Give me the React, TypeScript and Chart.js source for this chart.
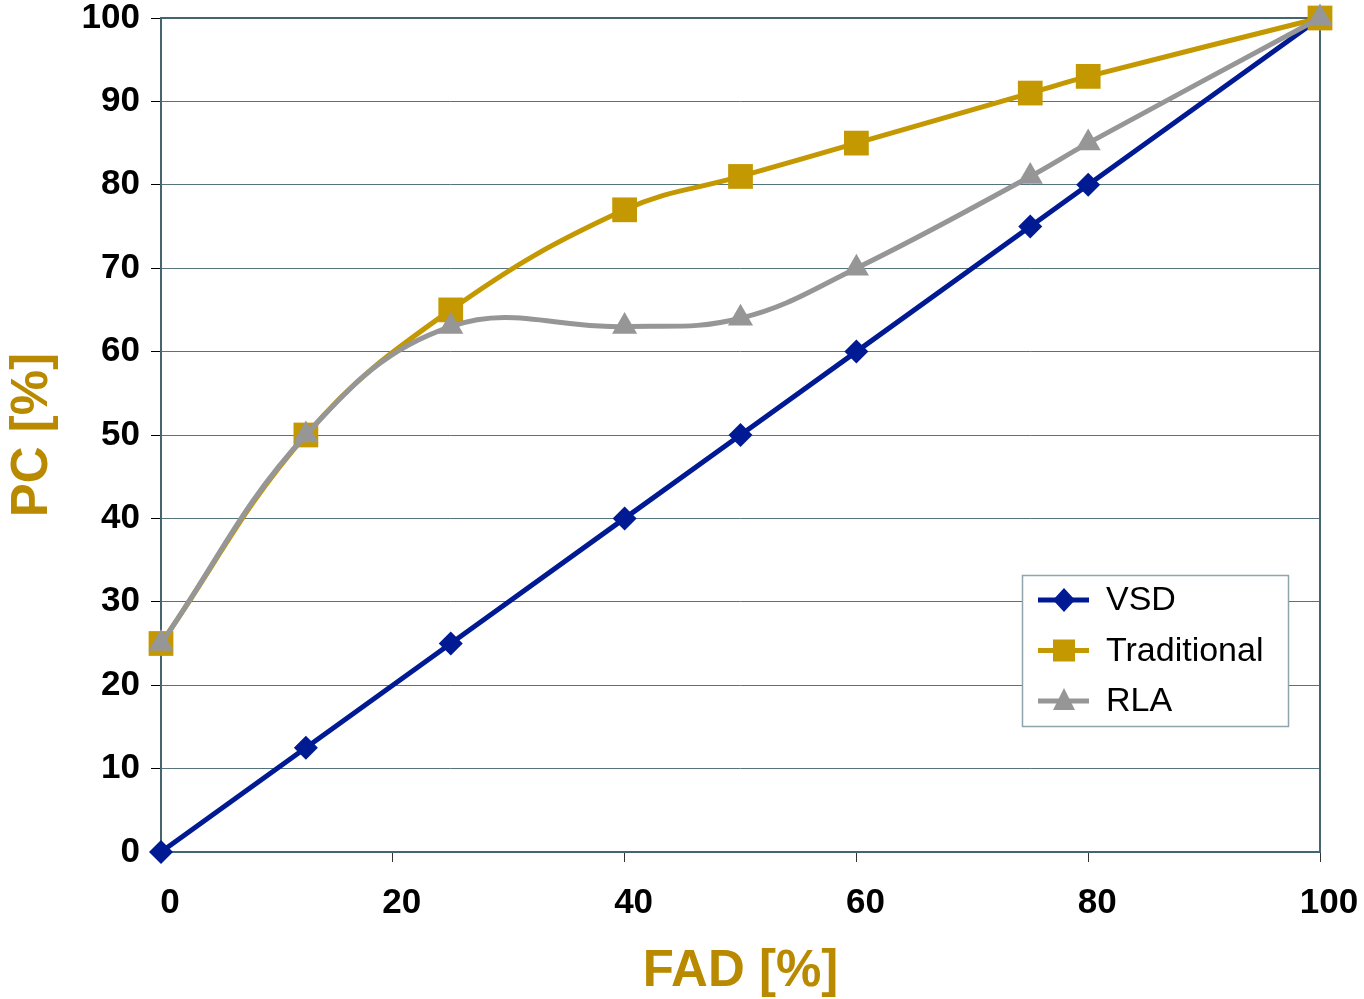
import React, { useEffect, useRef } from 'react';
import { Chart, registerables } from 'chart.js';

Chart.register(...registerables);

const fad = [0, 12.5, 25, 40, 50, 60, 75, 80, 100];
const vsd = [0, 12.5, 25, 40, 50, 60, 75, 80, 100];
const traditional = [25, 50, 65, 77, 81, 85, 91, 93, 100];
const rla = [25, 50, 63, 63, 64, 70, 81, 85, 100];
const seriesLabels = ['VSD', 'Traditional', 'RLA'];
const xTicks = [0, 20, 40, 60, 80, 100];
const yTicks = [0, 10, 20, 30, 40, 50, 60, 70, 80, 90, 100];
const xTitle = 'FAD [%]';
const yTitle = 'PC [%]';

const FONT = "'Liberation Sans', Arial, Helvetica, sans-serif";
const C_VSD = '#001a94';
const C_TRAD = '#c49800';
const C_RLA = '#969696';
const C_TITLE = '#b98a00';
const C_FRAME = '#44656e';
const C_GRID = '#54737a';

function drawMarker(ctx: CanvasRenderingContext2D, style: string, x: number, y: number, color: string) {
  ctx.fillStyle = color;
  ctx.beginPath();
  if (style === 'rectRot') {
    ctx.moveTo(x, y - 12);
    ctx.lineTo(x + 11, y);
    ctx.lineTo(x, y + 12);
    ctx.lineTo(x - 11, y);
    ctx.closePath();
  } else if (style === 'rect') {
    ctx.rect(x - 11, y - 11, 22, 22);
  } else {
    ctx.moveTo(x, y - 13);
    ctx.lineTo(x + 11, y + 9);
    ctx.lineTo(x - 11, y + 9);
    ctx.closePath();
  }
  ctx.fill();
}

const framePlugin = {
  id: 'frame',
  beforeDatasetsDraw(chart: any) {
    const { ctx, chartArea } = chart;
    ctx.save();
    ctx.strokeStyle = C_FRAME;
    ctx.lineWidth = 2;
    ctx.strokeRect(chartArea.left, chartArea.top, chartArea.right - chartArea.left, chartArea.bottom - chartArea.top);
    ctx.restore();
  },
};

const legendPlugin = {
  id: 'boxLegend',
  afterDatasetsDraw(chart: any) {
    const { ctx } = chart;
    const x0 = 1022;
    const y0 = 575;
    const w = 266;
    const h = 151;
    ctx.save();
    ctx.fillStyle = '#ffffff';
    ctx.fillRect(x0, y0, w, h);
    ctx.strokeStyle = '#8ea5ab';
    ctx.lineWidth = 1.5;
    ctx.strokeRect(x0 + 0.5, y0 + 0.5, w, h);
    chart.data.datasets.forEach((ds: any, i: number) => {
      const cy = 600 + i * 50.5;
      ctx.strokeStyle = ds.borderColor;
      ctx.lineWidth = 5;
      ctx.beginPath();
      ctx.moveTo(1038, cy);
      ctx.lineTo(1089, cy);
      ctx.stroke();
      drawMarker(ctx, ds.pointStyle, 1064, cy, ds.borderColor);
      ctx.fillStyle = '#000000';
      ctx.font = `34px ${FONT}`;
      ctx.textBaseline = 'middle';
      ctx.textAlign = 'left';
      ctx.fillText(ds.label, 1106, cy + 1);
    });
    ctx.restore();
  },
};

const toPts = (ys: number[]) => fad.map((x, i) => ({ x, y: ys[i] }));

export default function App() {
  const ref = useRef<HTMLCanvasElement>(null);

  useEffect(() => {
    if (!ref.current) return;
    const chart = new Chart(ref.current, {
      type: 'scatter',
      data: {
        datasets: [
          {
            label: seriesLabels[0],
            data: toPts(vsd),
            showLine: true,
            borderColor: C_VSD,
            backgroundColor: C_VSD,
            borderWidth: 5,
            pointStyle: 'rectRot',
            pointRadius: 12,
            pointBorderWidth: 0,
            tension: 0,
            order: 3,
            clip: false as any,
          },
          {
            label: seriesLabels[1],
            data: toPts(traditional),
            showLine: true,
            borderColor: C_TRAD,
            backgroundColor: C_TRAD,
            borderWidth: 5,
            pointStyle: 'rect',
            pointRadius: 17.5,
            pointBorderWidth: 0,
            tension: 0.4,
            order: 2,
            clip: false as any,
          },
          {
            label: seriesLabels[2],
            data: toPts(rla),
            showLine: true,
            borderColor: C_RLA,
            backgroundColor: C_RLA,
            borderWidth: 5,
            pointStyle: 'triangle',
            pointRadius: 14.5,
            pointBorderWidth: 0,
            tension: 0.4,
            order: 1,
            clip: false as any,
          },
        ],
      },
      options: {
        animation: false,
        responsive: false,
        maintainAspectRatio: false,
        layout: { padding: { left: 0, top: 18, right: 44, bottom: 0 } },
        plugins: {
          legend: { display: false },
          tooltip: { enabled: false },
        },
        scales: {
          x: {
            type: 'linear',
            min: 0,
            max: 100,
            afterBuildTicks: (scale: any) => {
              scale.ticks = xTicks.map((v) => ({ value: v }));
            },
            afterFit: (scale: any) => {
              scale.height = 147;
              scale.paddingLeft = 0;
              scale.paddingRight = 0;
            },
            border: { display: false },
            grid: {
              drawOnChartArea: false,
              drawTicks: true,
              tickLength: 10,
              tickColor: '#333333',
              lineWidth: 1,
            },
            ticks: {
              padding: 20,
              labelOffset: 9,
              maxRotation: 0,
              color: '#000000',
              font: { family: FONT, size: 35, weight: 'bold' },
            },
            title: {
              display: true,
              text: xTitle,
              color: C_TITLE,
              padding: { top: 0, bottom: -4 },
              font: { family: FONT, size: 51, weight: 'bold' },
            },
          },
          y: {
            type: 'linear',
            min: 0,
            max: 100,
            afterBuildTicks: (scale: any) => {
              scale.ticks = yTicks.map((v) => ({ value: v }));
            },
            afterFit: (scale: any) => {
              scale.width = 161;
              scale.paddingTop = 0;
              scale.paddingBottom = 0;
            },
            border: { display: false },
            grid: {
              drawOnChartArea: true,
              drawTicks: true,
              tickLength: 10,
              color: C_GRID,
              tickColor: '#000000',
              lineWidth: 1,
            },
            ticks: {
              padding: 11,
              color: '#000000',
              font: { family: FONT, size: 35, weight: 'bold' },
            },
            title: {
              display: true,
              text: yTitle,
              color: C_TITLE,
              padding: { top: 2, bottom: 0 },
              font: { family: FONT, size: 51, weight: 'bold' },
            },
          },
        },
      } as any,
      plugins: [framePlugin, legendPlugin],
    });
    return () => chart.destroy();
  }, []);

  return (
    <div style={{ position: 'absolute', left: 0, top: 0, width: 1364, height: 999, background: '#ffffff' }}>
      <canvas ref={ref} width={1364} height={999} style={{ display: 'block' }} />
    </div>
  );
}
